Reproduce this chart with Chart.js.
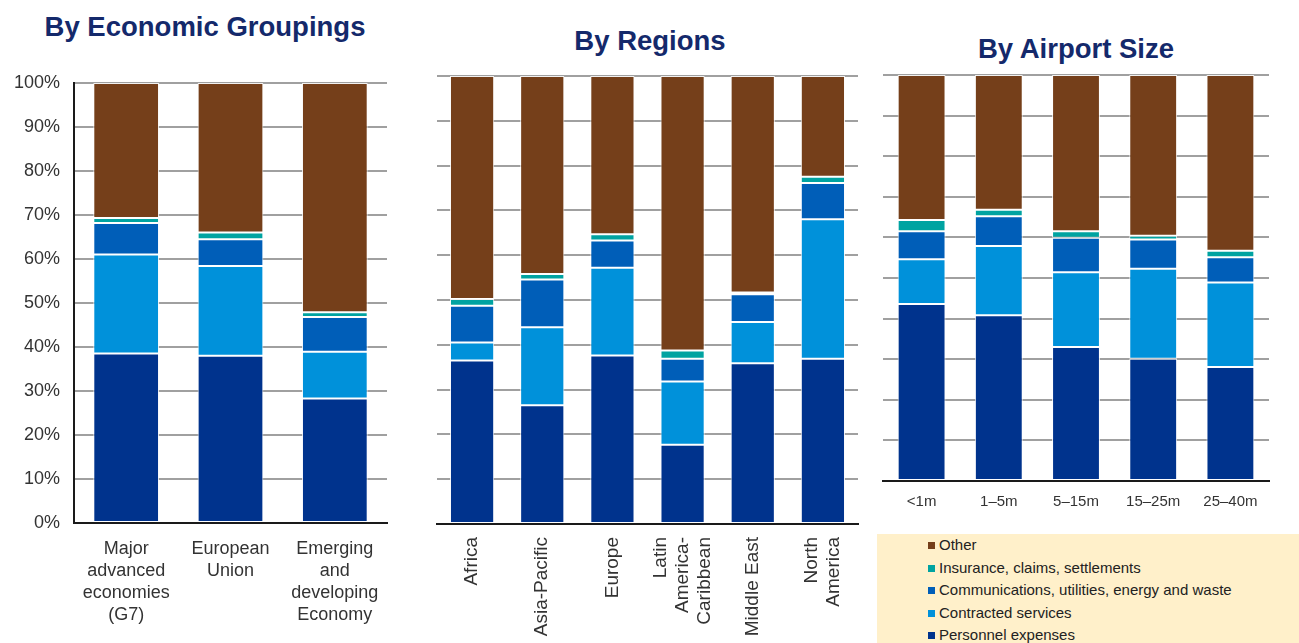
<!DOCTYPE html>
<html>
<head>
<meta charset="utf-8">
<script src="https://cdn.jsdelivr.net/npm/chart.js@4/dist/chart.umd.min.js"></script>
<style>
  html, body { margin:0; padding:0; background:#fff; }
  body { width:1299px; height:643px; position:relative; overflow:hidden; font-family:"Liberation Sans", Arial, sans-serif; }
  canvas { position:absolute; top:0; }
  .title { position:absolute; font-weight:bold; font-size:27.5px; color:#14296b; white-space:nowrap; transform:translate(-50%,-50%); }
  #legend { position:absolute; left:877px; top:534px; width:422px; height:109px; background:#FFF0CA; }
  .li { position:absolute; left:51px; font-size:15px; color:#222; white-space:nowrap; height:22px; line-height:22px; }
  .li span.sw { display:inline-block; width:7px; height:7px; margin-right:4px; vertical-align:middle; position:relative; top:-1px; }
</style>
</head>
<body>
<div class="title" style="left:205px;top:27px;">By Economic Groupings</div>
<div class="title" style="left:650px;top:41px;">By Regions</div>
<div class="title" style="left:1076px;top:49px;">By Airport Size</div>
<canvas id="c1" width="400" height="643" style="left:0px"></canvas>
<canvas id="c2" width="450" height="643" style="left:420px"></canvas>
<canvas id="c3" width="429" height="643" style="left:870px"></canvas>
<div id="legend"></div>
<script>
// ---- Series names & colours ----
const seriesNames = ['Personnel expenses', 'Contracted services', 'Communications, utilities, energy and waste', 'Insurance, claims, settlements', 'Other'];
const seriesColors = ['#00338D', '#0091DA', '#005EB8', '#00A3A1', '#753F1A'];

// ---- By Economic Groupings ----
const groupCats = [['Major', 'advanced', 'economies', '(G7)'], ['European', 'Union'], ['Emerging', 'and', 'developing', 'Economy']];
const groupPersonnel  = [38.5, 38.0, 28.3];
const groupContracted = [22.5, 20.4, 10.6];
const groupComms      = [7.2, 6.1, 7.9];
const groupInsurance  = [1.1, 1.5, 1.1];
const groupOther      = [30.7, 34.0, 52.1];

// ---- By Regions ----
const regionCats = ['Africa', 'Asia-Pacific', 'Europe', ['Latin', 'America-', 'Caribbean'], 'Middle East', ['North', 'America']];
const regionPersonnel  = [36.5, 26.5, 37.6, 17.7, 35.9, 36.9];
const regionContracted = [4.0, 17.4, 19.6, 14.1, 9.2, 31.1];
const regionComms      = [8.2, 10.7, 6.1, 5.1, 6.2, 8.1];
const regionInsurance  = [1.5, 1.2, 1.4, 1.8, 0.4, 1.4];
const regionOther      = [49.8, 44.2, 35.3, 61.3, 48.3, 22.5];

// ---- By Airport Size ----
const sizeCats = ['<1m', '1–5m', '5–15m', '15–25m', '25–40m'];
const sizePersonnel  = [43.6, 40.8, 33.0, 30.1, 28.1];
const sizeContracted = [11.0, 17.1, 18.4, 22.2, 20.8];
const sizeComms      = [6.9, 7.3, 8.5, 7.2, 6.2];
const sizeInsurance  = [2.8, 1.6, 1.6, 0.9, 1.6];
const sizeOther      = [35.7, 33.2, 38.5, 39.6, 43.3];

const yTicks = [0, 10, 20, 30, 40, 50, 60, 70, 80, 90, 100];

const FONT = '"Liberation Sans", Arial, sans-serif';

// Centre multi-line rotated category labels on their bar
const centerRotatedLabels = {
  id: 'centerRotatedLabels',
  beforeDraw(chart) {
    const s = chart.scales.x;
    const items = s.getLabelItems();
    if (items._centered) return;
    items._centered = true;
    items.forEach(it => {
      const n = Array.isArray(it.label) ? it.label.length : 1;
      if (n > 1) it.options.translation[0] -= (n - 1) / 2 * it.font.lineHeight;
    });
  }
};

function makeDatasets(arrs, barPct) {
  return arrs.map((d, i) => ({
    label: seriesNames[i],
    data: d,
    backgroundColor: seriesColors[i],
    borderColor: 'rgba(255,255,255,0.85)',
    borderWidth: 1,
    borderSkipped: false,
    barPercentage: barPct,
    categoryPercentage: 1.0
  }));
}

function makeChart(id, labels, arrs, cfg) {
  return new Chart(document.getElementById(id), {
    type: 'bar',
    data: { labels: labels, datasets: makeDatasets(arrs, cfg.barPct) },
    plugins: cfg.plugins || [],
    options: {
      responsive: false,
      devicePixelRatio: 1,
      animation: false,
      layout: { padding: cfg.padding },
      plugins: { legend: { display: false }, tooltip: { enabled: false }, title: { display: false } },
      scales: {
        x: {
          stacked: true,
          grid: { display: false, drawTicks: false },
          border: { display: true, color: '#1a1a1a', width: 2 },
          ticks: {
            color: '#333',
            font: { family: FONT, size: cfg.xFont, lineHeight: cfg.xLineHeight },
            padding: cfg.xPad,
            maxRotation: cfg.rot, minRotation: cfg.rot,
            autoSkip: false
          },
          afterFit: s => { s.height = cfg.xHeight; s.paddingLeft = 0; s.paddingRight = 0; }
        },
        y: {
          stacked: true,
          min: 0, max: 100,
          afterBuildTicks: s => { s.ticks = yTicks.map(v => ({ value: v })); },
          grid: { color: '#a0a0a0', lineWidth: 2, drawTicks: false },
          border: { display: cfg.yBorder, color: '#1a1a1a', width: 2 },
          ticks: {
            display: cfg.yLabels,
            color: '#333',
            font: { family: FONT, size: 18 },
            padding: 14,
            callback: v => v + '%'
          },
          afterFit: s => { s.width = cfg.yWidth; }
        }
      }
    }
  });
}

makeChart('c1', groupCats,
  [groupPersonnel, groupContracted, groupComms, groupInsurance, groupOther],
  { barPct: 0.63, padding: { top: 83, right: 13, left: 0, bottom: 0 }, xHeight: 120, yWidth: 74,
    yBorder: true, yLabels: true, xFont: 18, xLineHeight: 1.22, xPad: 15, rot: 0 });

makeChart('c2', regionCats,
  [regionPersonnel, regionContracted, regionComms, regionInsurance, regionOther],
  { barPct: 0.63, padding: { top: 76, right: 12, left: 17, bottom: 0 }, xHeight: 119, yWidth: 0,
    yBorder: false, yLabels: false, xFont: 19, xLineHeight: 1.15, xPad: 13, rot: 90,
    plugins: [centerRotatedLabels] });

makeChart('c3', sizeCats,
  [sizePersonnel, sizeContracted, sizeComms, sizeInsurance, sizeOther],
  { barPct: 0.62, padding: { top: 75, right: 30, left: 13, bottom: 0 }, xHeight: 162, yWidth: 0,
    yBorder: false, yLabels: false, xFont: 15, xLineHeight: 1.2, xPad: 12, rot: 0 });

// ---- Legend (reversed order) ----
const legend = document.getElementById('legend');
const order = [4, 3, 2, 1, 0];
const rowTops = [0, 23, 45, 68, 90];
order.forEach((si, r) => {
  const d = document.createElement('div');
  d.className = 'li';
  d.style.top = rowTops[r] + 'px';
  const sw = document.createElement('span');
  sw.className = 'sw';
  sw.style.background = seriesColors[si];
  d.appendChild(sw);
  d.appendChild(document.createTextNode(seriesNames[si]));
  legend.appendChild(d);
});
</script>
</body>
</html>
